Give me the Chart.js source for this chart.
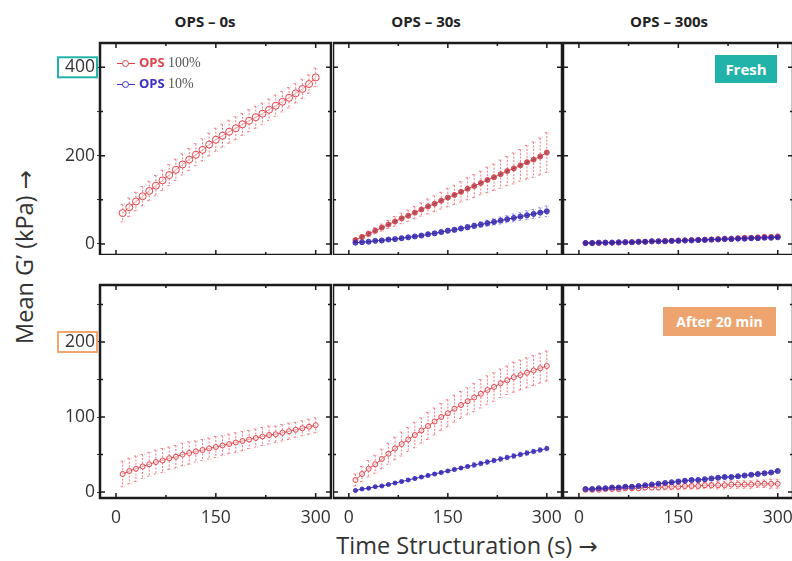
<!DOCTYPE html>
<html>
<head>
<meta charset="utf-8">
<title>Mean G' vs time structuration</title>
<script src="https://cdn.jsdelivr.net/npm/chart.js@4.4.1/dist/chart.umd.min.js"></script>
<style>
  body { margin: 0; width: 792px; height: 561px; overflow: hidden; background: #fff; position: relative; font-family: "Open Sans", sans-serif; }
  canvas { position: absolute; }
  .title { position: absolute; top: 11px; transform: translateX(-50%); font-weight: 700; font-size: 15px; color: #222; white-space: nowrap; }
  .axis-title { position: absolute; font-size: 23.5px; color: #333; white-space: nowrap; transform: translate(-50%, -50%); }
  .arrow { font-family: "DejaVu Sans", sans-serif; font-size: 23px; }
  .tag { position: absolute; color: #fff; font-weight: 700; text-align: center; }
  .legend { position: absolute; left: 117px; top: 52px; font-size: 13px; line-height: 20px; }
  .legend .mk { display: inline-block; position: relative; width: 18px; height: 10px; vertical-align: -1px; margin-right: 4px; }
  .legend .mk::before { content: ""; position: absolute; left: 0; right: 0; top: 5px; height: 1px; background: currentColor; }
  .legend .mk::after { content: ""; position: absolute; left: 5px; top: 2px; width: 5px; height: 5px; border: 1px solid currentColor; border-radius: 50%; background: #fff; }
  .legend b { font-weight: 700; }
  .legend .pc { font-family: "Liberation Serif", serif; font-size: 14px; color: #555; }
</style>
</head>
<body>

<div class="title" style="left:205px">OPS – 0s</div>
<div class="title" style="left:426px">OPS – 30s</div>
<div class="title" style="left:669px">OPS – 300s</div>

<div class="axis-title" style="left:24px; top:257px; transform: translate(-50%, -50%) rotate(-90deg)">Mean G’ (kPa) <span class="arrow">→</span></div>
<div class="axis-title" style="left:467px; top:545px">Time Structuration (s) <span class="arrow">→</span></div>

<canvas id="p1"></canvas>
<canvas id="p2"></canvas>
<canvas id="p3"></canvas>
<canvas id="p4"></canvas>
<canvas id="p5"></canvas>
<canvas id="p6"></canvas>

<div class="legend">
  <div style="color:#e2434b"><span class="mk"></span><b>OPS</b> <span class="pc">100%</span></div>
  <div style="color:#3b2fc8"><span class="mk"></span><b>OPS</b> <span class="pc">10%</span></div>
</div>
<div class="tag" style="left:715px; top:55px; width:62px; height:28px; line-height:28px; font-size:15px; background:#21b3a9">Fresh</div>
<div class="tag" style="left:663px; top:307px; width:113px; height:29px; line-height:29px; font-size:14px; background:#eea46f">After 20 min</div>

<script>
// structuration times (s)
const times = [10, 20, 30, 40, 50, 60, 70, 80, 90, 100, 110, 120, 130, 140, 150,
               160, 170, 180, 190, 200, 210, 220, 230, 240, 250, 260, 270, 280, 290, 300];

// labelled tick values; the other ticks are drawn unlabelled
const xLabelled = [0, 150, 300];
const yLabelledFresh = [0, 200, 400];
const yLabelledAged = [0, 100, 200];

// Fresh — OPS 0s
const fresh0s100 = [70, 83, 96, 108, 120, 132, 144, 156, 168, 180, 191, 202, 213, 225, 236,
                    245, 254, 262, 271, 279, 287, 295, 304, 313, 322, 331, 341, 351, 362, 377];
const fresh0s100Err = [20, 21, 21, 22, 22, 23, 23, 24, 24, 24, 25, 25, 25, 26, 26,
                       26, 26, 26, 25, 25, 25, 24, 24, 24, 23, 23, 22, 22, 21, 21];

// Fresh — OPS 30s
const fresh30s100 = [9, 16, 23, 30, 37, 44, 51, 58, 64, 71, 78, 85, 91, 98, 105,
                     111, 118, 125, 131, 138, 145, 151, 158, 165, 171, 178, 185, 191, 198, 207];
const fresh30s100Err = [3, 4, 6, 7, 8, 9, 11, 12, 13, 14, 15, 17, 18, 19, 21,
                        22, 23, 25, 26, 27, 29, 30, 32, 33, 35, 36, 38, 40, 42, 45];
const fresh30s10 = [3, 4, 5, 7, 8, 10, 11, 13, 15, 17, 19, 22, 24, 27, 30,
                    32, 35, 38, 41, 44, 47, 50, 53, 56, 59, 62, 65, 68, 71, 74];
const fresh30s10Err = [1, 1, 1, 2, 2, 2, 2, 3, 3, 3, 3, 4, 4, 4, 5,
                       5, 5, 6, 6, 6, 7, 7, 8, 8, 9, 9, 10, 10, 11, 12];

// Fresh — OPS 300s
const fresh300s100 = [2, 2, 2, 3, 3, 3, 4, 4, 5, 5, 6, 6, 7, 7, 8,
                      8, 9, 9, 10, 10, 11, 12, 12, 13, 14, 14, 15, 16, 16, 17];
const fresh300s100Err = [1, 1, 1, 1, 1, 1, 1, 2, 2, 2, 2, 2, 2, 2, 2,
                         3, 3, 3, 3, 3, 3, 3, 3, 4, 4, 4, 4, 4, 4, 5];
const fresh300s10 = [2, 2, 3, 3, 3, 4, 4, 4, 5, 5, 6, 6, 6, 7, 7,
                     8, 8, 9, 9, 10, 10, 11, 11, 12, 12, 13, 13, 14, 14, 15];
const fresh300s10Err = [1, 1, 1, 1, 1, 1, 1, 1, 1, 1, 1, 2, 2, 2, 2,
                        2, 2, 2, 2, 2, 2, 2, 3, 3, 3, 3, 3, 3, 3, 3];

// After 20 min — OPS 0s
const aged0s100 = [24, 28, 31, 34, 37, 40, 42, 45, 47, 50, 52, 54, 56, 58, 60,
                   62, 64, 66, 68, 70, 72, 74, 76, 77, 79, 81, 83, 85, 87, 89];
const aged0s100Err = [17, 17, 17, 16, 16, 16, 16, 15, 15, 15, 15, 14, 14, 14, 14,
                      13, 13, 13, 13, 12, 12, 12, 12, 11, 11, 11, 10, 10, 10, 10];

// After 20 min — OPS 30s
const aged30s100 = [16, 24, 31, 37, 44, 51, 58, 64, 70, 76, 82, 88, 94, 100, 105,
                    111, 116, 121, 126, 131, 136, 140, 145, 149, 153, 156, 159, 162, 165, 168];
const aged30s100Err = [8, 10, 11, 12, 13, 14, 15, 16, 16, 17, 17, 18, 18, 18, 18,
                       18, 18, 18, 19, 19, 19, 19, 19, 19, 20, 20, 20, 20, 20, 20];
const aged30s10 = [2, 4, 5, 7, 8, 10, 12, 14, 16, 18, 20, 22, 24, 26, 28,
                   30, 32, 34, 36, 38, 40, 42, 44, 46, 48, 50, 52, 54, 56, 58];
const aged30s10Err = [1, 1, 1, 1, 1, 1, 1, 2, 2, 2, 2, 2, 2, 2, 2,
                      2, 2, 2, 3, 3, 3, 3, 3, 3, 3, 3, 3, 3, 3, 3];

// After 20 min — OPS 300s
const aged300s100 = [3, 3, 3, 4, 4, 4, 5, 5, 5, 6, 6, 6, 7, 7, 7,
                     8, 8, 8, 9, 9, 9, 9, 10, 10, 10, 10, 11, 11, 11, 11];
const aged300s100Err = [2, 2, 2, 2, 2, 3, 3, 3, 3, 3, 3, 3, 4, 4, 4,
                        4, 4, 4, 4, 4, 5, 5, 5, 5, 5, 5, 5, 5, 6, 6];
const aged300s10 = [4, 4, 5, 5, 6, 6, 7, 7, 8, 9, 10, 11, 12, 13, 14,
                    15, 16, 16, 17, 18, 19, 20, 20, 21, 22, 23, 24, 25, 26, 28];
const aged300s10Err = [1, 1, 1, 1, 1, 1, 1, 1, 1, 1, 1, 1, 1, 1, 2,
                       2, 2, 2, 2, 2, 2, 2, 2, 2, 2, 2, 2, 2, 2, 2];

const RED = '#e2434b';
const BLUE = '#3b2fc8';

function series(vals, errs, color, radius, fill) {
  return {
    data: times.map((t, i) => ({ x: t, y: vals[i] })),
    errors: errs,
    errColor: color === RED ? 'rgba(228,80,88,0.75)' : 'rgba(70,60,205,0.6)',
    showLine: true,
    borderColor: color,
    borderWidth: 1,
    pointBorderColor: color,
    pointBackgroundColor: fill,
    pointBorderWidth: 1,
    pointRadius: radius,
    pointHoverRadius: radius
  };
}

// vertical error bars with small caps, drawn under the markers
const errorBars = {
  id: 'errorBars',
  beforeDatasetsDraw(chart) {
    const { ctx, chartArea: a, scales: { y } } = chart;
    ctx.save();
    ctx.beginPath();
    ctx.rect(a.left, a.top, a.width, a.height);
    ctx.clip();
    ctx.lineWidth = 1;
    ctx.setLineDash([2, 1.5]);
    chart.data.datasets.forEach((ds, di) => {
      const meta = chart.getDatasetMeta(di);
      ctx.strokeStyle = ds.errColor;
      meta.data.forEach((pt, i) => {
        const v = ds.data[i].y, e = ds.errors[i];
        const top = y.getPixelForValue(v + e), bot = y.getPixelForValue(v - e);
        ctx.beginPath();
        ctx.moveTo(pt.x, top); ctx.lineTo(pt.x, bot);
        ctx.moveTo(pt.x - 2, top); ctx.lineTo(pt.x + 2, top);
        ctx.moveTo(pt.x - 2, bot); ctx.lineTo(pt.x + 2, bot);
        ctx.stroke();
      });
    });
    ctx.restore();
  }
};

// closed box frame with inward ticks on all four sides, plus the highlighted tick label
const frame = {
  id: 'frame',
  afterDraw(chart, args, opts) {
    const { ctx, chartArea: a, scales: { x, y } } = chart;
    ctx.save();
    ctx.strokeStyle = '#1b1b1b';
    ctx.lineWidth = 1.5;
    ctx.beginPath();
    x.ticks.forEach(t => {
      const px = x.getPixelForValue(t.value);
      const len = xLabelled.includes(t.value) ? 5 : 3;
      ctx.moveTo(px, a.bottom); ctx.lineTo(px, a.bottom - len);
      ctx.moveTo(px, a.top); ctx.lineTo(px, a.top + len);
    });
    y.ticks.forEach(t => {
      const py = y.getPixelForValue(t.value);
      const len = opts.yLabelled.includes(t.value) ? 5 : 3;
      ctx.moveTo(a.left, py); ctx.lineTo(a.left + len, py);
      ctx.moveTo(a.right, py); ctx.lineTo(a.right - len, py);
    });
    ctx.stroke();
    ctx.lineWidth = 2.5;
    ctx.strokeRect(a.left, a.top, a.width, a.height);

    if (opts.box) {
      const py = y.getPixelForValue(opts.box.value);
      ctx.strokeStyle = opts.box.color;
      ctx.lineWidth = 2;
      ctx.strokeRect(a.left - 42, py - 10, 39, 20);
    }
    ctx.restore();
  }
};

// keep the plot box fixed: no extra room reserved for the outermost tick labels
function fixSize(size, key) {
  return s => {
    s[key] = size;
    s.paddingTop = s.paddingBottom = s.paddingLeft = s.paddingRight = 0;
  };
}

const PAD = 4;
const OPEN = 'rgba(255,255,255,0.5)';
const DARK_RED = 'rgba(150,40,60,0.7)';
const DARK_BLUE = 'rgba(50,30,150,0.75)';
const panels = [
  { id: 'p1', x: 100, y: 43, w: 231, h: 212, left: true, bottom: false, yMin: -25, yMax: 455, step: 100,
    yLabelled: yLabelledFresh, box: { value: 400, color: '#24b3ab' },
    sets: [series(fresh0s100, fresh0s100Err, RED, 3.5, OPEN)] },
  { id: 'p2', x: 333, y: 43, w: 229, h: 212, left: false, bottom: false, yMin: -25, yMax: 455, step: 100,
    yLabelled: yLabelledFresh,
    sets: [series(fresh30s10, fresh30s10Err, BLUE, 2.5, DARK_BLUE), series(fresh30s100, fresh30s100Err, RED, 2.5, DARK_RED)] },
  { id: 'p3', x: 563, y: 43, w: 230, h: 212, left: false, bottom: false, yMin: -25, yMax: 455, step: 100,
    yLabelled: yLabelledFresh,
    sets: [series(fresh300s10, fresh300s10Err, BLUE, 2.5, DARK_BLUE), series(fresh300s100, fresh300s100Err, RED, 2.5, DARK_RED)] },
  { id: 'p4', x: 100, y: 285, w: 231, h: 213, left: true, bottom: true, yMin: -8, yMax: 276, step: 50,
    yLabelled: yLabelledAged, box: { value: 200, color: '#f0a66e' },
    sets: [series(aged0s100, aged0s100Err, RED, 2.5, OPEN)] },
  { id: 'p5', x: 333, y: 285, w: 229, h: 213, left: false, bottom: true, yMin: -8, yMax: 276, step: 50,
    yLabelled: yLabelledAged,
    sets: [series(aged30s10, aged30s10Err, BLUE, 2, DARK_BLUE), series(aged30s100, aged30s100Err, RED, 2.5, OPEN)] },
  { id: 'p6', x: 563, y: 285, w: 230, h: 213, left: false, bottom: true, yMin: -8, yMax: 276, step: 50,
    yLabelled: yLabelledAged,
    sets: [series(aged300s10, aged300s10Err, BLUE, 2.5, DARK_BLUE), series(aged300s100, aged300s100Err, RED, 2.5, OPEN)] }
];

const tickFont = { family: 'Open Sans', size: 17.5 };

panels.forEach(p => {
  const L = p.left ? 60 : 0;
  const B = p.bottom ? 30 : 0;
  const cv = document.getElementById(p.id);
  const W = L + p.w + PAD, H = PAD + p.h + B;
  cv.width = W; cv.height = H;
  cv.style.left = (p.x - L) + 'px';
  cv.style.top = (p.y - PAD) + 'px';
  cv.style.width = W + 'px';
  cv.style.height = H + 'px';

  new Chart(cv.getContext('2d'), {
    type: 'scatter',
    data: { datasets: p.sets },
    plugins: [errorBars, frame],
    options: {
      responsive: false,
      animation: false,
      devicePixelRatio: 1,
      layout: { autoPadding: false, padding: { top: PAD, right: PAD, left: 0, bottom: 0 } },
      scales: {
        x: {
          type: 'linear', min: -24, max: 323,
          afterFit: fixSize(B, 'height'),
          grid: { display: false },
          border: { display: false },
          ticks: {
            display: p.bottom, stepSize: 75, includeBounds: false, autoSkip: false,
            maxRotation: 0, padding: 2, color: '#333', font: tickFont,
            callback: v => xLabelled.includes(v) ? v : ''
          }
        },
        y: {
          type: 'linear', min: p.yMin, max: p.yMax,
          afterFit: fixSize(L, 'width'),
          grid: { display: p.left, drawOnChartArea: false, tickLength: 3, color: '#333' },
          border: { display: false },
          ticks: {
            display: p.left, stepSize: p.step, includeBounds: false, autoSkip: false,
            padding: 2, color: '#333', font: tickFont,
            callback: v => p.yLabelled.includes(v) ? v : ''
          }
        }
      },
      plugins: {
        legend: { display: false },
        tooltip: { enabled: false },
        frame: { yLabelled: p.yLabelled, box: p.box }
      }
    }
  });
});
</script>
</body>
</html>
